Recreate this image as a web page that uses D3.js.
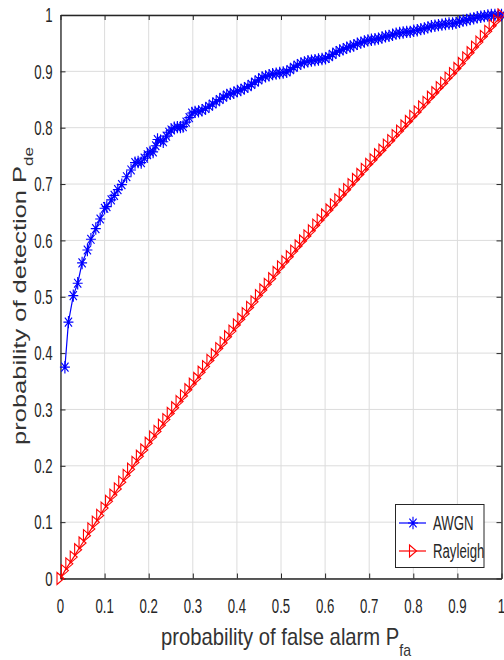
<!DOCTYPE html>
<html>
<head>
<meta charset="utf-8">
<script src="https://cdn.jsdelivr.net/npm/d3@7"></script>
<style>
html,body{margin:0;padding:0;background:#fff;}
svg{display:block;}
</style>
</head>
<body>
<svg id="chart" width="504" height="660"></svg>
<script>
// ---------------- data ----------------
const xTicks = [0,0.1,0.2,0.3,0.4,0.5,0.6,0.7,0.8,0.9,1];
const yTicks = [0,0.1,0.2,0.3,0.4,0.5,0.6,0.7,0.8,0.9,1];
const xTickLabels = ["0","0.1","0.2","0.3","0.4","0.5","0.6","0.7","0.8","0.9","1"];
const yTickLabels = ["0","0.1","0.2","0.3","0.4","0.5","0.6","0.7","0.8","0.9","1"];
const seriesNames = ["AWGN","Rayleigh"];

// AWGN (blue, '*')
const awgnPfa = [0.010,0.018,0.029,0.039,0.049,0.061,0.069,0.080,0.090,0.100,0.105,0.115,0.122,0.130,0.139,0.150,0.160,0.169,0.176,0.183,0.190,0.197,0.203,0.210,0.216,0.220,0.227,0.233,0.240,0.246,0.251,0.258,0.265,0.272,0.278,0.285,0.292,0.298,
0.305,0.313,0.321,0.329,0.337,0.345,0.353,0.361,0.369,0.377,0.385,0.393,0.401,0.409,0.417,0.425,0.433,0.441,0.449,0.457,0.465,0.473,0.481,0.489,0.497,0.505,0.513,0.521,0.529,0.537,0.545,0.553,0.561,0.569,0.577,0.585,0.593,0.601,0.609,0.617,0.625,0.633,0.641,0.649,0.657,0.665,0.673,0.681,0.689,0.697,0.705,0.713,0.721,0.729,0.737,0.745,0.753,0.761,0.769,0.777,0.785,0.793,0.801,0.809,0.817,0.825,0.833,0.841,0.849,0.857,0.865,0.873,0.881,0.889,0.897,0.905,0.913,0.921,0.929,0.937,0.945,0.953,0.961,0.969,0.977,0.985,0.993,1.000];
const awgnPd = [0.375,0.455,0.502,0.524,0.560,0.583,0.602,0.621,0.638,0.657,0.660,0.672,0.680,0.690,0.699,0.713,0.725,0.738,0.739,0.738,0.746,0.752,0.757,0.757,0.768,0.779,0.777,0.775,0.785,0.792,0.796,0.800,0.801,0.801,0.802,0.810,0.818,0.826,
0.828,0.829,0.831,0.834,0.838,0.842,0.846,0.850,0.854,0.858,0.860,0.862,0.865,0.867,0.870,0.873,0.877,0.881,0.885,0.889,0.891,0.893,0.895,0.896,0.897,0.898,0.899,0.903,0.907,0.911,0.914,0.916,0.918,0.919,0.920,0.921,0.922,0.923,0.926,0.930,0.934,0.937,0.939,0.942,0.944,0.946,0.949,0.951,0.953,0.955,0.956,0.957,0.958,0.960,0.962,0.963,0.965,0.967,0.968,0.969,0.970,0.970,0.972,0.973,0.975,0.976,0.978,0.980,0.981,0.982,0.983,0.984,0.985,0.985,0.986,0.988,0.990,0.991,0.993,0.994,0.996,0.997,0.998,0.999,1.000,1.000,1.000,1.000];

// Rayleigh (red, '>')
const rayPfa = [0.00,0.01,0.02,0.03,0.04,0.05,0.06,0.07,0.08,0.09,0.10,0.11,0.12,0.13,0.14,0.15,0.16,0.17,0.18,0.19,0.20,0.21,0.22,0.23,0.24,0.25,0.26,0.27,0.28,0.29,0.30,0.31,0.32,0.33,0.34,0.35,0.36,0.37,0.38,0.39,0.40,0.41,0.42,0.43,0.44,0.45,0.46,0.47,0.48,0.49,0.50,0.51,0.52,0.53,0.54,0.55,0.56,0.57,0.58,0.59,0.60,0.61,0.62,0.63,0.64,0.65,0.66,0.67,0.68,0.69,0.70,0.71,0.72,0.73,0.74,0.75,0.76,0.77,0.78,0.79,0.80,0.81,0.82,0.83,0.84,0.85,0.86,0.87,0.88,0.89,0.90,0.91,0.92,0.93,0.94,0.95,0.96,0.97,0.98,0.99,1.00];
const rayPd = [0.000,0.014,0.026,0.038,0.051,0.063,0.076,0.088,0.100,0.112,0.125,0.137,0.148,0.159,0.171,0.183,0.194,0.206,0.217,0.228,0.240,0.251,0.261,0.272,0.282,0.293,0.303,0.314,0.324,0.335,0.345,0.355,0.366,0.376,0.387,0.397,0.408,0.418,0.429,0.439,0.450,0.460,0.470,0.481,0.491,0.502,0.512,0.522,0.532,0.543,0.553,0.562,0.571,0.581,0.590,0.599,0.608,0.617,0.627,0.636,0.645,0.654,0.663,0.672,0.681,0.690,0.699,0.708,0.717,0.726,0.735,0.743,0.752,0.760,0.769,0.777,0.786,0.794,0.803,0.811,0.820,0.828,0.837,0.845,0.854,0.862,0.871,0.879,0.888,0.896,0.905,0.914,0.924,0.933,0.943,0.952,0.962,0.971,0.981,0.990,1.000];

// ---------------- drawing ----------------
const svg = d3.select("#chart");
const L = 60.5, R = 501.5, T = 15, B = 578.5;
const x = d3.scaleLinear().domain([0,1]).range([L,R]);
const y = d3.scaleLinear().domain([0,1]).range([B,T]);
const axisColor = "#262626";
const FONT = "'Liberation Sans', Arial, Helvetica, sans-serif";
const SX = 0.66;   // horizontal squeeze of tick labels

// grid
const grid = svg.append("g");
grid.selectAll("line.gx").data(xTicks).join("line")
  .attr("x1", d=>x(d)).attr("x2", d=>x(d)).attr("y1", T).attr("y2", B)
  .attr("stroke", "#dcdcdc").attr("stroke-width", 1);
grid.selectAll("line.gy").data(yTicks).join("line")
  .attr("y1", d=>y(d)).attr("y2", d=>y(d)).attr("x1", L).attr("x2", R)
  .attr("stroke", "#dcdcdc").attr("stroke-width", 1);

// axes (ticks inward on all four sides)
function styleAxis(g){
  g.select(".domain").attr("stroke", axisColor).attr("stroke-width", 1.3);
  g.selectAll(".tick line").attr("stroke", axisColor).attr("stroke-width", 1);
  g.selectAll(".tick text").remove();
}
svg.append("g").attr("transform", `translate(0,${B})`)
  .call(d3.axisBottom(x).tickValues(xTicks).tickSizeInner(-5).tickSizeOuter(0)).call(styleAxis);
svg.append("g").attr("transform", `translate(0,${T})`)
  .call(d3.axisTop(x).tickValues(xTicks).tickSizeInner(-5).tickSizeOuter(0)).call(styleAxis);
svg.append("g").attr("transform", `translate(${L},0)`)
  .call(d3.axisLeft(y).tickValues(yTicks).tickSizeInner(-5).tickSizeOuter(0)).call(styleAxis);
svg.append("g").attr("transform", `translate(${R},0)`)
  .call(d3.axisRight(y).tickValues(yTicks).tickSizeInner(-5).tickSizeOuter(0)).call(styleAxis);

// tick labels
svg.append("g").selectAll("text").data(xTicks).join("text")
  .attr("transform", (d)=>`translate(${x(d)},612.5) scale(${SX},1)`)
  .attr("text-anchor","middle").attr("font-family",FONT).attr("font-size",20)
  .attr("fill", axisColor).text((d,i)=>xTickLabels[i]);
svg.append("g").selectAll("text").data(yTicks).join("text")
  .attr("transform", (d)=>`translate(52.5,${y(d)+7.2}) scale(${SX},1)`)
  .attr("text-anchor","end").attr("font-family",FONT).attr("font-size",20)
  .attr("fill", axisColor).text((d,i)=>yTickLabels[i]);

// axis titles
const xl = svg.append("text")
  .attr("transform", `translate(286,645) scale(0.88,1)`)
  .attr("text-anchor","middle").attr("font-family",FONT).attr("font-size",23)
  .attr("fill","#333");
xl.append("tspan").text("probability of false alarm P");
xl.append("tspan").attr("font-size",16).attr("dy",11).text("fa");

const yl = svg.append("text")
  .attr("transform", `translate(26,296) rotate(-90) scale(1,0.75)`)
  .attr("text-anchor","middle").attr("font-family",FONT).attr("font-size",25.5)
  .attr("fill","#333");
yl.append("tspan").text("probability of detection P");
yl.append("tspan").attr("font-size",17).attr("dy",9).text("de");

// marker shapes
const starPath = (a,b)=>`M${-a},0H${a}M0,${-b}V${b}M${-a*0.72},${-b*0.72}L${a*0.72},${b*0.72}M${-a*0.72},${b*0.72}L${a*0.72},${-b*0.72}`;
const triPath = (a,b)=>`M${-a},${-b}L${a},0L${-a},${b}Z`;

const awgn = awgnPfa.map((v,i)=>({x:v, y:awgnPd[i]}));
const ray = rayPfa.map((v,i)=>({x:v, y:rayPd[i]}));
const line = d3.line().x(d=>x(d.x)).y(d=>y(d.y));

const plot = svg.append("g");
// AWGN
plot.append("path").datum(awgn).attr("d", line)
  .attr("fill","none").attr("stroke","#0000ff").attr("stroke-width",1.2);
plot.append("g").selectAll("path").data(awgn).join("path")
  .attr("transform", d=>`translate(${x(d.x)},${y(d.y)})`)
  .attr("d", starPath(5,6.2)).attr("fill","none").attr("stroke","#0000ff").attr("stroke-width",1.15);
// Rayleigh
plot.append("path").datum(ray).attr("d", line)
  .attr("fill","none").attr("stroke","#ff0000").attr("stroke-width",1.2);
plot.append("g").selectAll("path").data(ray).join("path")
  .attr("transform", d=>`translate(${x(d.x)},${y(d.y)})`)
  .attr("d", triPath(3.5,6)).attr("fill","none").attr("stroke","#ff0000").attr("stroke-width",1.1);

// legend
const lg = svg.append("g");
lg.append("rect").attr("x",395.5).attr("y",504.5).attr("width",88.5).attr("height",63)
  .attr("fill","#fff").attr("stroke",axisColor).attr("stroke-width",1);
const legendItems = [
  {name: seriesNames[0], color:"#0000ff", shape: starPath(5,6.2), yy:523},
  {name: seriesNames[1], color:"#ff0000", shape: triPath(3.5,6), yy:551}
];
legendItems.forEach(it=>{
  lg.append("line").attr("x1",399).attr("x2",426).attr("y1",it.yy).attr("y2",it.yy)
    .attr("stroke",it.color).attr("stroke-width",1.2);
  lg.append("path").attr("transform",`translate(413,${it.yy})`).attr("d",it.shape)
    .attr("fill","none").attr("stroke",it.color).attr("stroke-width",1.1);
  lg.append("text").attr("transform",`translate(433,${it.yy+7}) scale(${SX},1)`)
    .attr("font-family",FONT).attr("font-size",20).attr("fill",axisColor).text(it.name);
});
</script>
</body>
</html>
